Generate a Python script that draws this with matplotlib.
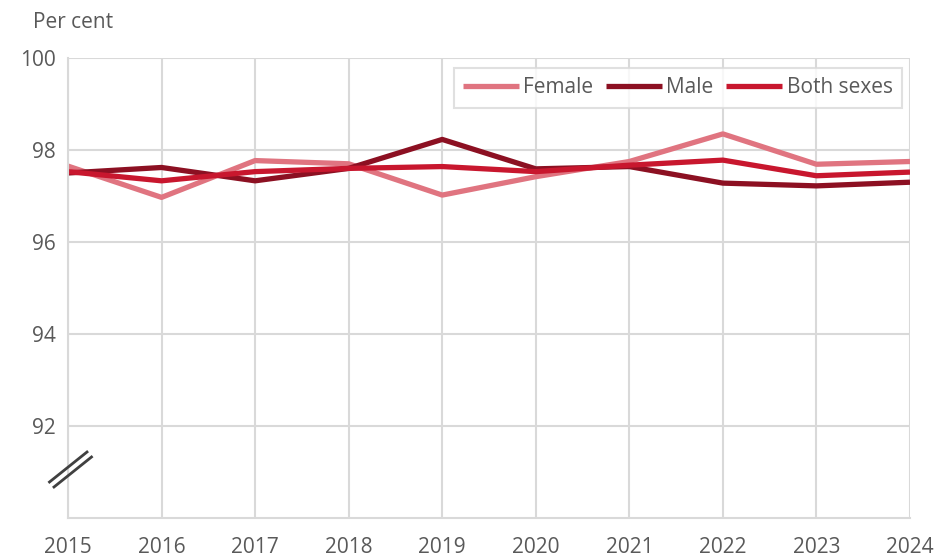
import matplotlib
matplotlib.use("Agg")
import matplotlib.pyplot as plt
from matplotlib.lines import Line2D

years = [2015, 2016, 2017, 2018, 2019, 2020, 2021, 2022, 2023, 2024]
female = [97.65, 96.97, 97.77, 97.70, 97.02, 97.42, 97.75, 98.35, 97.69, 97.75]
male = [97.50, 97.62, 97.33, 97.60, 98.23, 97.59, 97.64, 97.28, 97.22, 97.30]
both = [97.53, 97.33, 97.53, 97.60, 97.64, 97.53, 97.67, 97.78, 97.44, 97.52]
yticks = [92, 94, 96, 98, 100]

plt.rcParams['font.family'] = ['Open Sans', 'DejaVu Sans']
text_color = '#595959'
grid_color = '#d9d9d9'

W, H = 938, 558
fig = plt.figure(figsize=(W / 100, H / 100), dpi=100)
ax = fig.add_axes([68 / W, 1 - 518 / H, (910 - 68) / W, (518 - 58) / H])

ax.plot(years, female, color='#e07480', lw=3.8, label='Female', solid_capstyle='butt')
ax.plot(years, male, color='#8c1022', lw=3.8, label='Male', solid_capstyle='butt')
ax.plot(years, both, color='#c8172e', lw=3.8, label='Both sexes', solid_capstyle='butt')

ax.set_xlim(years[0], years[-1])
ax.set_ylim(90, 100)
ax.set_xticks(years)
ax.set_yticks(yticks)
ax.grid(True, color=grid_color, lw=1.5)
ax.set_axisbelow(True)
for s in ['top', 'right']:
    ax.spines[s].set_visible(False)
ax.spines['left'].set_color(grid_color)
ax.spines['left'].set_linewidth(1.5)
ax.spines['bottom'].set_color(grid_color)
ax.spines['bottom'].set_linewidth(1.5)
ax.tick_params(axis='both', length=0, labelsize=15, colors=text_color)
ax.tick_params(axis='x', pad=14)
ax.tick_params(axis='y', pad=9)

fig.text(33 / W, 1 - 23 / H, 'Per cent', fontsize=15, color=text_color, va='center', ha='left')

leg = ax.legend(loc='upper right', bbox_to_anchor=(1 - 8 / 842, 1 - 10 / 460), borderaxespad=0,
                ncol=3, frameon=True, fontsize=15, handlelength=2.7, handletextpad=0.2,
                columnspacing=0.6, borderpad=0.45, fancybox=False, labelcolor=text_color)
leg.get_frame().set_edgecolor(grid_color)
leg.get_frame().set_linewidth(1.5)

# axis break marks
for (x0, y0, x1, y1) in [(49.5, 482, 87, 452), (54, 487, 91.5, 457)]:
    fig.add_artist(Line2D([x0 / W, x1 / W], [1 - y0 / H, 1 - y1 / H],
                          transform=fig.transFigure, color='#404040', lw=2))

fig.savefig('out.png', dpi=100)
